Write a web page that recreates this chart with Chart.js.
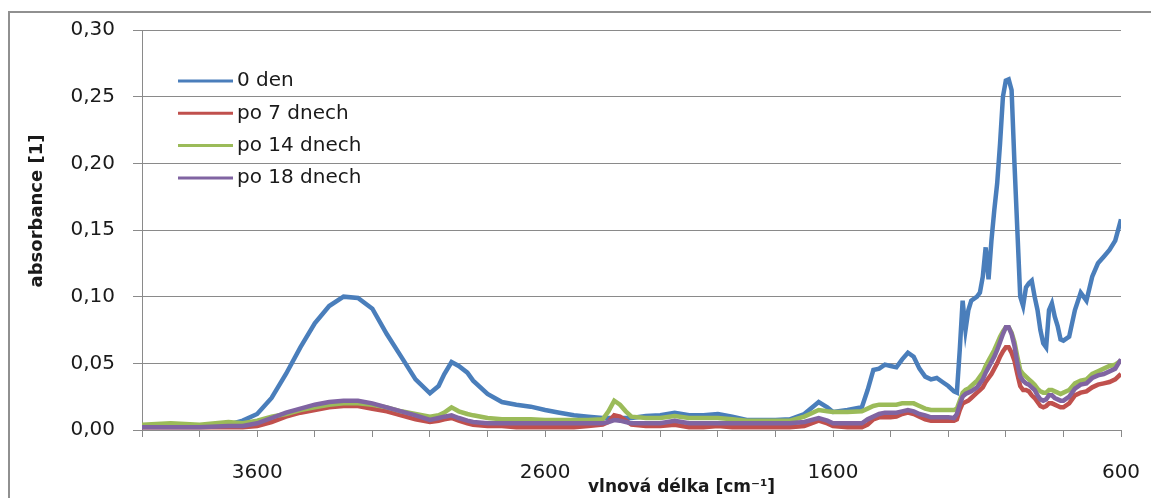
<!DOCTYPE html>
<html>
<head>
<meta charset="utf-8">
<script src="https://cdn.jsdelivr.net/npm/chart.js@4.4.0/dist/chart.umd.min.js"></script>
<style>
  html, body { margin: 0; padding: 0; background: #fff; }
  #wrap { width: 1151px; height: 498px; position: relative; }
</style>
</head>
<body>
<div id="wrap"><canvas id="chartAbsorbance"></canvas></div>
<script>
// vlnočty (cm-1) a absorbance
const wavenumbers = [4000, 3900, 3800, 3700, 3650, 3600, 3550, 3500, 3450, 3400, 3350, 3300, 3250, 3200, 3150, 3100, 3050, 3000, 2970, 2950, 2925, 2900, 2870, 2850, 2800, 2750, 2700, 2650, 2600, 2550, 2500, 2450, 2400, 2380, 2360, 2340, 2320, 2300, 2250, 2200, 2150, 2100, 2050, 2000, 1950, 1900, 1850, 1800, 1750, 1700, 1650, 1620, 1600, 1550, 1500, 1480, 1460, 1440, 1420, 1400, 1380, 1360, 1340, 1320, 1300, 1280, 1260, 1240, 1220, 1200, 1180, 1170, 1160, 1150, 1140, 1130, 1120, 1100, 1090, 1080, 1070, 1060, 1050, 1040, 1030, 1020, 1010, 1000, 990, 980, 970, 960, 950, 940, 930, 920, 910, 900, 890, 880, 870, 860, 850, 840, 830, 820, 810, 800, 780, 760, 740, 720, 700, 680, 660, 640, 620, 600];

const day0 = [0.003, 0.003, 0.003, 0.004, 0.007, 0.012, 0.024, 0.042, 0.062, 0.080, 0.093, 0.100, 0.099, 0.091, 0.072, 0.055, 0.038, 0.0275, 0.033, 0.042, 0.051, 0.048, 0.043, 0.037, 0.027, 0.021, 0.019, 0.0175, 0.015, 0.013, 0.011, 0.010, 0.009, 0.009, 0.009, 0.009, 0.009, 0.009, 0.0105, 0.011, 0.013, 0.011, 0.011, 0.012, 0.010, 0.0075, 0.0075, 0.0075, 0.008, 0.012, 0.021, 0.017, 0.0135, 0.015, 0.017, 0.030, 0.045, 0.046, 0.049, 0.048, 0.047, 0.053, 0.058, 0.055, 0.046, 0.040, 0.038, 0.039, 0.036, 0.033, 0.029, 0.028, 0.060, 0.097, 0.075, 0.090, 0.097, 0.100, 0.103, 0.115, 0.137, 0.113, 0.142, 0.165, 0.185, 0.215, 0.250, 0.262, 0.263, 0.255, 0.200, 0.150, 0.100, 0.093, 0.107, 0.110, 0.112, 0.100, 0.090, 0.075, 0.065, 0.062, 0.090, 0.095, 0.085, 0.078, 0.068, 0.067, 0.070, 0.090, 0.103, 0.097, 0.115, 0.125, 0.130, 0.135, 0.142, 0.158];

const day7 = [0.002, 0.002, 0.002, 0.002, 0.002, 0.003, 0.006, 0.010, 0.013, 0.015, 0.017, 0.018, 0.018, 0.016, 0.014, 0.011, 0.008, 0.006, 0.007, 0.008, 0.009, 0.007, 0.005, 0.004, 0.003, 0.003, 0.002, 0.002, 0.002, 0.002, 0.002, 0.003, 0.004, 0.006, 0.011, 0.010, 0.007, 0.004, 0.003, 0.003, 0.004, 0.002, 0.002, 0.003, 0.002, 0.002, 0.002, 0.002, 0.002, 0.003, 0.007, 0.005, 0.003, 0.002, 0.002, 0.004, 0.008, 0.0095, 0.0095, 0.0095, 0.010, 0.012, 0.013, 0.012, 0.010, 0.008, 0.007, 0.007, 0.007, 0.007, 0.007, 0.008, 0.015, 0.020, 0.021, 0.022, 0.024, 0.028, 0.030, 0.032, 0.036, 0.039, 0.042, 0.046, 0.050, 0.055, 0.059, 0.062, 0.062, 0.058, 0.052, 0.042, 0.033, 0.030, 0.030, 0.029, 0.026, 0.024, 0.021, 0.018, 0.017, 0.018, 0.020, 0.020, 0.019, 0.018, 0.017, 0.017, 0.020, 0.026, 0.028, 0.029, 0.032, 0.034, 0.035, 0.036, 0.038, 0.042];

const day14 = [0.004, 0.005, 0.004, 0.006, 0.005, 0.007, 0.010, 0.012, 0.015, 0.017, 0.019, 0.020, 0.020, 0.019, 0.017, 0.014, 0.012, 0.010, 0.011, 0.013, 0.017, 0.014, 0.012, 0.011, 0.009, 0.008, 0.008, 0.008, 0.0075, 0.0075, 0.0075, 0.0075, 0.008, 0.014, 0.022, 0.019, 0.014, 0.010, 0.009, 0.009, 0.0105, 0.009, 0.009, 0.009, 0.008, 0.007, 0.007, 0.007, 0.007, 0.010, 0.015, 0.014, 0.0135, 0.0135, 0.014, 0.016, 0.018, 0.019, 0.019, 0.019, 0.019, 0.020, 0.020, 0.020, 0.018, 0.016, 0.015, 0.015, 0.015, 0.015, 0.015, 0.016, 0.022, 0.028, 0.030, 0.031, 0.033, 0.037, 0.040, 0.043, 0.048, 0.052, 0.056, 0.060, 0.065, 0.070, 0.074, 0.077, 0.077, 0.073, 0.066, 0.055, 0.045, 0.042, 0.040, 0.038, 0.036, 0.034, 0.031, 0.029, 0.028, 0.028, 0.030, 0.030, 0.029, 0.028, 0.027, 0.028, 0.030, 0.035, 0.037, 0.038, 0.042, 0.044, 0.046, 0.048, 0.049, 0.052];

const day18 = [0.002, 0.002, 0.002, 0.003, 0.003, 0.005, 0.009, 0.013, 0.016, 0.019, 0.021, 0.022, 0.022, 0.020, 0.017, 0.014, 0.011, 0.0075, 0.009, 0.010, 0.011, 0.009, 0.007, 0.006, 0.005, 0.005, 0.005, 0.005, 0.005, 0.005, 0.005, 0.005, 0.005, 0.006, 0.0075, 0.007, 0.006, 0.005, 0.005, 0.005, 0.007, 0.005, 0.005, 0.005, 0.005, 0.005, 0.005, 0.005, 0.005, 0.006, 0.009, 0.007, 0.005, 0.005, 0.005, 0.008, 0.010, 0.012, 0.013, 0.013, 0.013, 0.014, 0.015, 0.014, 0.012, 0.011, 0.0095, 0.0095, 0.0095, 0.0095, 0.009, 0.012, 0.019, 0.025, 0.027, 0.028, 0.029, 0.032, 0.035, 0.038, 0.043, 0.047, 0.051, 0.055, 0.060, 0.066, 0.072, 0.077, 0.077, 0.072, 0.063, 0.050, 0.040, 0.037, 0.035, 0.034, 0.032, 0.030, 0.026, 0.023, 0.022, 0.023, 0.026, 0.026, 0.024, 0.023, 0.022, 0.022, 0.025, 0.031, 0.034, 0.035, 0.039, 0.041, 0.042, 0.044, 0.046, 0.053];

const seriesLabels = ['0 den', 'po 7 dnech', 'po 14 dnech', 'po 18 dnech'];
const seriesColors = ['#4a7ebb', '#c0504d', '#9bbb59', '#8064a2'];
const seriesValues = [day0, day7, day14, day18];
const xLabels = [3600, 2600, 1600, 600];

const FONT = '"DejaVu Sans", sans-serif';
const GRID = '#8a8a8a';

// rámeček, legenda uvnitř grafu a popisky os
const decorPlugin = {
  id: 'decor',
  beforeDraw(chart) {
    const ctx = chart.ctx;
    ctx.save();
    ctx.fillStyle = '#fff';
    ctx.fillRect(0, 0, chart.width, chart.height);
    ctx.strokeStyle = '#909090';
    ctx.lineWidth = 2;
    ctx.strokeRect(9, 12, 1300, 700);
    ctx.restore();
  },
  afterDraw(chart) {
    const ctx = chart.ctx;
    ctx.save();
    // legenda
    ctx.font = '20px ' + FONT;
    ctx.textBaseline = 'middle';
    ctx.fillStyle = '#1a1a1a';
    seriesLabels.forEach((lbl, i) => {
      const y = 81 + i * 32.3;
      ctx.strokeStyle = seriesColors[i];
      ctx.lineWidth = 3;
      ctx.beginPath();
      ctx.moveTo(178, y);
      ctx.lineTo(233, y);
      ctx.stroke();
      ctx.fillText(lbl, 237, y);
    });
    // název osy x
    ctx.font = 'bold 17px ' + FONT;
    ctx.textAlign = 'left';
    ctx.fillText('vlnová délka [cm⁻¹]', 588, 488);
    // název osy y
    ctx.translate(37, 211);
    ctx.rotate(-Math.PI / 2);
    ctx.textAlign = 'center';
    ctx.font = 'bold 18px ' + FONT;
    ctx.fillText('absorbance [1]', 0, 0);
    ctx.restore();
  }
};

function init() {
  const canvas = document.getElementById('chartAbsorbance');
  const datasets = seriesValues.map((vals, i) => ({
    label: seriesLabels[i],
    data: wavenumbers.map((w, j) => ({ x: w, y: vals[j] })),
    borderColor: seriesColors[i],
    backgroundColor: seriesColors[i],
    borderWidth: 4.5,
    pointRadius: 0,
    tension: 0,
    fill: false,
    order: 3 - i
  }));

  new Chart(canvas.getContext('2d'), {
    type: 'line',
    data: { datasets: datasets },
    options: {
      responsive: true,
      maintainAspectRatio: false,
      animation: false,
      layout: { padding: { top: 30, right: 30, left: 0, bottom: 0 } },
      plugins: {
        legend: { display: false },
        tooltip: { enabled: false }
      },
      scales: {
        x: {
          type: 'linear',
          reverse: true,
          min: 600,
          max: 4000,
          afterFit: s => { s.height = 68; s.paddingLeft = 0; s.paddingRight = 0; },
          ticks: {
            stepSize: 200,
            autoSkip: false,
            maxRotation: 0,
            padding: 24,
            color: '#1a1a1a',
            font: { family: FONT, size: 20 },
            callback: v => (xLabels.includes(v) ? String(v) : '')
          },
          grid: { drawOnChartArea: false, drawTicks: true, tickLength: 7, color: GRID },
          border: { color: GRID, width: 1 }
        },
        y: {
          min: 0,
          max: 0.3,
          afterFit: s => { s.width = 142; s.paddingTop = 0; s.paddingBottom = 0; },
          ticks: {
            stepSize: 0.05,
            padding: 18,
            color: '#1a1a1a',
            font: { family: FONT, size: 20 },
            callback: v => v.toFixed(2).replace('.', ',')
          },
          grid: { color: GRID, tickLength: 9 },
          border: { color: GRID, width: 1 }
        }
      }
    },
    plugins: [decorPlugin]
  });
}

if (document.readyState === 'loading') {
  document.addEventListener('DOMContentLoaded', init);
} else {
  init();
}
</script>
</body>
</html>
